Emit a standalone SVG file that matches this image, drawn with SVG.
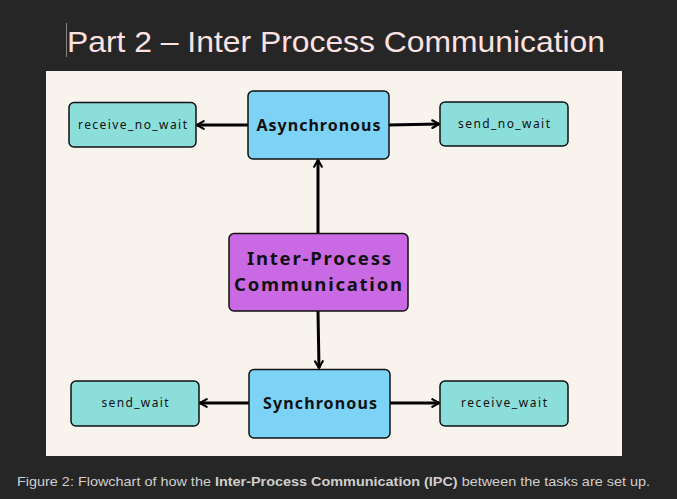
<svg xmlns="http://www.w3.org/2000/svg" width="677" height="499" viewBox="0 0 677 499">
<style>
.bg{fill:#262626}
.panel{fill:#f8f3ec}
.leaf{fill:#8cdedb;stroke:#111;stroke-width:1.5}
.mode{fill:#7dd3f6;stroke:#111;stroke-width:1.5}
.root{fill:#c96ae4;stroke:#111;stroke-width:1.5}
.lt{font-family:"Noto Sans","DejaVu Sans",sans-serif;font-size:12px;fill:#111;text-anchor:middle}
.bt{font-family:"Noto Sans","DejaVu Sans",sans-serif;font-weight:bold;fill:#111;text-anchor:middle}
.conn{stroke:#000;stroke-width:3;fill:none}
</style>
<defs>
<marker id="ah" viewBox="0 0 10 10" refX="8" refY="5" markerWidth="3.2" markerHeight="3.4" orient="auto" markerUnits="strokeWidth">
<path d="M1,1 L8,5 L1,9" fill="none" stroke="#000" stroke-width="2.2" stroke-linecap="round" stroke-linejoin="round"/>
</marker>
</defs>
<rect class="bg" x="0" y="0" width="677" height="499"/>
<line x1="66.5" y1="23" x2="66.5" y2="57" stroke="#888" stroke-width="1"/>
<text x="67" y="52" font-family="'Liberation Sans',Arial,sans-serif" font-size="30" fill="#fde2e2" textLength="538" lengthAdjust="spacingAndGlyphs">Part 2 – Inter Process Communication</text>
<rect class="panel" x="46" y="71" width="576" height="385"/>
<g id="connectors">
<line class="conn" x1="248" y1="125" x2="197" y2="125" marker-end="url(#ah)"/>
<line class="conn" x1="389" y1="125" x2="439" y2="124" marker-end="url(#ah)"/>
<line class="conn" x1="318" y1="233" x2="318" y2="160" marker-end="url(#ah)"/>
<line class="conn" x1="318" y1="311" x2="319" y2="368" marker-end="url(#ah)"/>
<line class="conn" x1="249" y1="403" x2="200" y2="403" marker-end="url(#ah)"/>
<line class="conn" x1="390" y1="403" x2="439" y2="403" marker-end="url(#ah)"/>
</g>
<g id="receive_no_wait">
<rect class="leaf" x="69" y="102.5" width="127" height="44.5" rx="5"/>
<text class="lt" x="132.5" y="128.5" textLength="109" lengthAdjust="spacing">receive_no_wait</text>
</g>
<g id="asynchronous">
<rect class="mode" x="248" y="91" width="141" height="68" rx="5"/>
<text class="bt" x="318.5" y="130.5" font-size="16" textLength="124" lengthAdjust="spacing">Asynchronous</text>
</g>
<g id="send_no_wait">
<rect class="leaf" x="440" y="102" width="128" height="44" rx="5"/>
<text class="lt" x="504" y="127.5" textLength="92" lengthAdjust="spacing">send_no_wait</text>
</g>
<g id="ipc">
<rect class="root" x="229" y="233.5" width="179" height="77.5" rx="5"/>
<text class="bt" x="319" y="264.5" font-size="18.5" textLength="144" lengthAdjust="spacing">Inter-Process</text>
<text class="bt" x="318" y="291" font-size="18.5" textLength="168" lengthAdjust="spacing">Communication</text>
</g>
<g id="synchronous">
<rect class="mode" x="249" y="369.5" width="141" height="68.5" rx="5"/>
<text class="bt" x="320" y="409" font-size="16" textLength="114" lengthAdjust="spacing">Synchronous</text>
</g>
<g id="send_wait">
<rect class="leaf" x="71" y="381" width="128" height="45" rx="5"/>
<text class="lt" x="135" y="406.5" textLength="67" lengthAdjust="spacing">send_wait</text>
</g>
<g id="receive_wait">
<rect class="leaf" x="440" y="381" width="128" height="45" rx="5"/>
<text class="lt" x="504" y="406.5" textLength="86" lengthAdjust="spacing">receive_wait</text>
</g>
<text x="17" y="486" font-family="'Liberation Sans',Arial,sans-serif" font-size="13" fill="#cfcfcf" textLength="633" lengthAdjust="spacingAndGlyphs">Figure 2: Flowchart of how the <tspan font-weight="bold">Inter-Process Communication (IPC)</tspan> between the tasks are set up.</text>
</svg>
